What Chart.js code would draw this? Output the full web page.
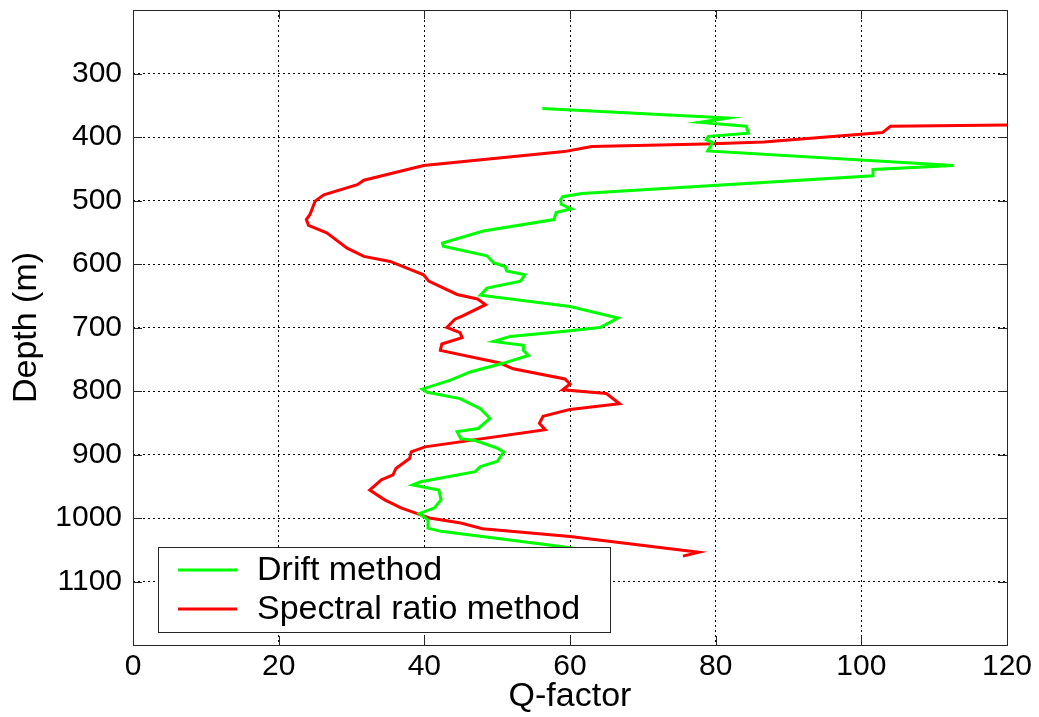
<!DOCTYPE html>
<html>
<head>
<meta charset="utf-8">
<script src="https://cdn.jsdelivr.net/npm/chart.js@4/dist/chart.umd.min.js"></script>
<style>
  html, body { margin: 0; padding: 0; background: #fff; }
  #wrap { width: 1039px; height: 717px; }
</style>
</head>
<body>
<div id="wrap"><canvas id="qChart" width="1039" height="717"></canvas></div>
<script>
// Q-factor vs depth, two estimation methods
const driftQ = [56.2, 81.7, 77.8, 84.2, 84.5, 79.0, 78.7, 79.6, 78.9, 112.7, 101.6, 101.6, 61.6, 59.0, 58.7, 58.8, 60.2, 58.1, 57.8, 48.1, 42.5, 42.6, 48.6, 49.5, 51.1, 51.3, 53.8, 53.2, 48.6, 47.7, 60.0, 66.6, 64.1, 60.0, 51.8, 49.5, 53.6, 53.6, 54.3, 50.9, 46.3, 43.6, 39.7, 40.4, 44.9, 47.7, 49.0, 47.4, 44.5, 45.0, 47.0, 50.0, 50.9, 50.0, 47.7, 47.0, 39.5, 38.4, 42.0, 42.3, 41.4, 39.3, 40.5, 40.5, 42.3, 58.2, 62.0];
const driftDepth = [355, 370, 377, 383, 394, 399, 404, 409, 422, 445, 451, 461, 489, 494, 499, 506, 513, 519, 530, 548, 567, 572, 587, 598, 604, 611, 617, 627, 638, 649, 667, 685, 700, 705, 714, 722, 728, 736, 744, 756, 770, 783, 797, 802, 812, 828, 843, 859, 864, 875, 878, 890, 896, 911, 919, 927, 943, 948, 956, 971, 984, 993, 1003, 1016, 1021, 1044, 1050];

const spectralQ = [120.0, 104.0, 102.9, 86.6, 78.5, 63.0, 59.2, 39.9, 31.7, 30.8, 26.2, 25.0, 24.3, 23.8, 24.1, 26.6, 29.4, 31.7, 35.3, 39.9, 40.6, 44.5, 47.3, 48.4, 45.2, 44.2, 43.1, 44.9, 45.2, 42.4, 42.2, 50.4, 52.2, 59.3, 60.0, 59.0, 65.0, 66.8, 60.0, 56.3, 55.8, 56.6, 40.1, 38.2, 38.0, 36.1, 35.7, 34.1, 32.5, 34.5, 36.8, 39.5, 40.7, 45.0, 48.0, 60.0, 77.7, 75.5];
const spectralDepth = [381, 383, 393, 408, 411, 415, 423, 445, 468, 475, 491, 501, 522, 530, 539, 551, 575, 588, 596, 617, 627, 648, 655, 664, 682, 687, 700, 708, 716, 726, 736, 756, 765, 781, 789, 798, 804, 820, 829, 840, 851, 861, 888, 896, 906, 922, 932, 940, 956, 971, 984, 995, 1000, 1008, 1017, 1029, 1054, 1060];

const seriesNames = ['Drift method', 'Spectral ratio method'];
const seriesColors = ['#00ff00', '#ff0000'];

const xTicks = [0, 20, 40, 60, 80, 100, 120];
const yTicks = [200, 300, 400, 500, 600, 700, 800, 900, 1000, 1100, 1200];

const FONT = '"Liberation Sans", Arial, Helvetica, sans-serif';

function toPoints(xs, ys) {
  return xs.map((x, i) => ({ x: x, y: ys[i] }));
}

// box around the axes with inward tick marks (matlab style)
const frameBox = {
  id: 'frameBox',
  afterDraw(chart) {
    const { ctx, chartArea: a, scales } = chart;
    const tl = 9;
    ctx.save();
    ctx.strokeStyle = '#262626';
    ctx.lineWidth = 1;
    ctx.beginPath();
    xTicks.forEach(v => {
      const px = Math.round(scales.x.getPixelForValue(v)) + 0.5;
      ctx.moveTo(px, a.bottom); ctx.lineTo(px, a.bottom - tl);
      ctx.moveTo(px, a.top); ctx.lineTo(px, a.top + tl);
    });
    yTicks.forEach(v => {
      const py = Math.round(scales.y.getPixelForValue(v)) + 0.5;
      ctx.moveTo(a.left, py); ctx.lineTo(a.left + tl, py);
      ctx.moveTo(a.right, py); ctx.lineTo(a.right - tl, py);
    });
    ctx.stroke();
    ctx.strokeRect(Math.round(a.left) + 0.5, Math.round(a.top) + 0.5, Math.round(a.right - a.left), Math.round(a.bottom - a.top));
    ctx.restore();
  }
};

// legend box in the lower left, drawn over the lines
const boxLegend = {
  id: 'boxLegend',
  afterDatasetsDraw(chart) {
    const { ctx } = chart;
    const x0 = 158, y0 = 547, w = 452, h = 85;
    ctx.save();
    ctx.fillStyle = '#fff';
    ctx.fillRect(x0, y0, w, h);
    ctx.strokeStyle = '#262626';
    ctx.lineWidth = 1;
    ctx.strokeRect(x0 + 0.5, y0 + 0.5, w, h);
    ctx.font = '34px ' + FONT;
    ctx.textBaseline = 'middle';
    seriesNames.forEach((name, i) => {
      const y = y0 + 23 + i * 39;
      ctx.strokeStyle = seriesColors[i];
      ctx.lineWidth = 3;
      ctx.beginPath();
      ctx.moveTo(178, y); ctx.lineTo(237, y);
      ctx.stroke();
      ctx.fillStyle = '#000';
      ctx.fillText(name, 257, y + 1);
    });
    ctx.restore();
  }
};

const ctx = document.getElementById('qChart').getContext('2d');
new Chart(ctx, {
  type: 'scatter',
  data: {
    datasets: [
      { label: seriesNames[0], data: toPoints(driftQ, driftDepth), showLine: true, borderColor: seriesColors[0], backgroundColor: seriesColors[0], borderWidth: 3, pointRadius: 0, tension: 0 },
      { label: seriesNames[1], data: toPoints(spectralQ, spectralDepth), showLine: true, borderColor: seriesColors[1], backgroundColor: seriesColors[1], borderWidth: 3, pointRadius: 0, tension: 0 }
    ]
  },
  options: {
    responsive: false,
    animation: false,
    layout: { padding: { top: 10, right: 32, left: 0, bottom: 0 } },
    plugins: { legend: { display: false }, tooltip: { enabled: false } },
    scales: {
      x: {
        type: 'linear', min: 0, max: 120,
        afterBuildTicks: s => { s.ticks = xTicks.map(v => ({ value: v })); },
        afterFit: s => { s.height = 72; s.paddingLeft = 0; s.paddingRight = 0; },
        ticks: { color: '#000', font: { family: FONT, size: 30 }, padding: 4, maxRotation: 0 },
        grid: { color: '#000', lineWidth: 1, drawTicks: false },
        border: { display: false, dash: [2, 3] },
        title: { display: true, text: 'Q-factor', color: '#000', font: { family: FONT, size: 34 }, padding: 0 }
      },
      y: {
        type: 'linear', min: 200, max: 1200, reverse: true,
        afterBuildTicks: s => { s.ticks = yTicks.map(v => ({ value: v })); },
        afterFit: s => { s.width = 133; s.paddingTop = 0; s.paddingBottom = 0; },
        ticks: {
          color: '#000', font: { family: FONT, size: 30 }, padding: 11,
          callback: v => (v === 200 || v === 1200) ? '' : String(v)
        },
        grid: { color: '#000', lineWidth: 1, drawTicks: false },
        border: { display: false, dash: [2, 3] },
        title: { display: true, text: 'Depth (m)', color: '#000', font: { family: FONT, size: 34 }, padding: { top: 6, bottom: 0 } }
      }
    }
  },
  plugins: [frameBox, boxLegend]
});
</script>
</body>
</html>
